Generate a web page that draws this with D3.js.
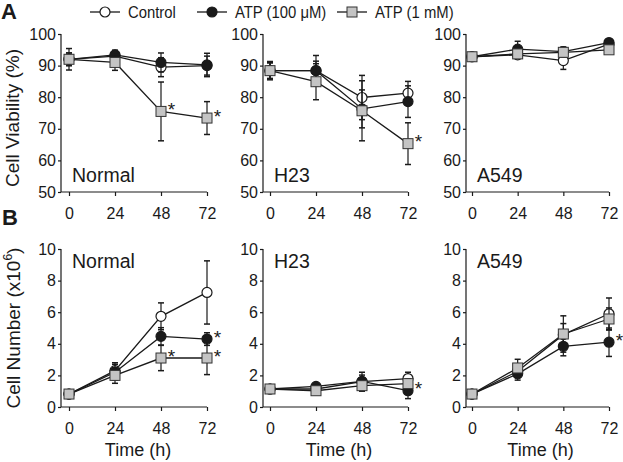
<!DOCTYPE html>
<html>
<head>
<meta charset="utf-8">
<script src="https://cdn.jsdelivr.net/npm/d3@7"></script>
<style>
  body { margin: 0; background: #fff; }
  text { font-family: "Liberation Sans", Arial, sans-serif; fill: #1a1a1a; }
</style>
</head>
<body>
<div id="chart"></div>
<script>
// time points (h)
const times = [0, 24, 48, 72];
const seriesNames = ["Control", "ATP (100 \u03bcM)", "ATP (1 mM)"];
const cellLines = ["Normal", "H23", "A549"];

// A: cell viability (%)
const viaControl = [[92, 93, 89.5, 90], [88.4, 88.4, 79.9, 81.3], [92.8, 93.4, 91.6, 96.8]];
const viaControlErr = [[2, 1.5, 3, 3], [2.5, 3, 7, 3.7], [0.8, 1, 2.8, 0.8]];
const viaAtpLow = [[92, 93.4, 91, 90.2], [88.4, 88.4, 76.3, 78.6], [92.8, 95.2, 94.4, 97.3]];
const viaAtpLowErr = [[2, 1.5, 3, 3.7], [2.5, 4.8, 6, 5], [0.8, 2.5, 1.5, 1]];
const viaAtpHigh = [[92, 91, 75.5, 73.4], [88.4, 84.9, 75.7, 65.3], [92.8, 93.7, 94.2, 95]];
const viaAtpHighErr = [[3.4, 2.5, 9.3, 5.2], [2.9, 5.7, 9.5, 6.6], [0.8, 1, 1.5, 0.8]];
// significance marks: [series index, time]
const viaStars = [[[2, 48], [2, 72]], [[2, 72]], []];

// B: cell number (x10^6)
const numControl = [[0.82, 2.3, 5.74, 7.25], [1.14, 1.14, 1.6, 1.8], [0.82, 2.26, 4.58, 5.9]];
const numControlErr = [[0.1, 0.5, 0.85, 2.0], [0.2, 0.2, 0.6, 0.4], [0.1, 0.4, 0.7, 1.0]];
const numAtpLow = [[0.82, 2.2, 4.47, 4.3], [1.14, 1.3, 1.62, 1.03], [0.82, 2.1, 3.84, 4.1]];
const numAtpLowErr = [[0.1, 0.5, 0.55, 0.4], [0.2, 0.2, 0.4, 0.5], [0.1, 0.4, 0.6, 0.9]];
const numAtpHigh = [[0.82, 2.0, 3.1, 3.1], [1.14, 1.03, 1.35, 1.48], [0.82, 2.47, 4.62, 5.57]];
const numAtpHighErr = [[0.1, 0.5, 0.8, 1.05], [0.2, 0.2, 0.3, 0.3], [0.1, 0.55, 1.15, 0.7]];
const numStars = [[[2, 48], [1, 72], [2, 72]], [[1, 72]], [[1, 72]]];

const viaTicks = [50, 60, 70, 80, 90, 100];
const numTicks = [0, 2, 4, 6, 8, 10];

const W = 623, H = 462;
const svg = d3.select("#chart").append("svg").attr("width", W).attr("height", H);

const axisX = [61, 263, 466];       // y axis line position of each column
const plotX = [[69, 207], [270, 408], [472, 609]];
const rows = [
  { top: 34, bottom: 192, domain: [50, 100], ticks: viaTicks,
    means: [viaControl, viaAtpLow, viaAtpHigh], errs: [viaControlErr, viaAtpLowErr, viaAtpHighErr], stars: viaStars },
  { top: 249, bottom: 407, domain: [0, 10], ticks: numTicks,
    means: [numControl, numAtpLow, numAtpHigh], errs: [numControlErr, numAtpLowErr, numAtpHighErr], stars: numStars }
];

const ink = "#1a1a1a";
const squareFill = "#c4c4c4";

function drawMarker(g, s, x, y) {
  if (s === 2) {
    g.append("rect").attr("x", x - 5).attr("y", y - 5).attr("width", 10).attr("height", 10)
      .attr("fill", squareFill).attr("stroke", "#333").attr("stroke-width", 1);
  } else {
    g.append("circle").attr("cx", x).attr("cy", y).attr("r", 5)
      .attr("fill", s === 0 ? "#fff" : ink).attr("stroke", ink).attr("stroke-width", 1.2);
  }
}

rows.forEach((row, ri) => {
  cellLines.forEach((name, ci) => {
    const x = d3.scaleLinear().domain([0, 72]).range(plotX[ci]);
    const y = d3.scaleLinear().domain(row.domain).range([row.bottom, row.top]);
    const g = svg.append("g");

    // axes
    const yAxis = d3.axisLeft(y).tickValues(row.ticks).tickSize(3).tickPadding(2);
    const ya = g.append("g").attr("transform", `translate(${axisX[ci]},0)`).call(yAxis);
    const xAxis = d3.axisBottom(x).tickValues(times).tickSize(4).tickPadding(12);
    const xa = g.append("g").attr("transform", `translate(0,${row.bottom})`).call(xAxis);
    [ya, xa].forEach(a => {
      a.select(".domain").remove();
      a.selectAll("line").attr("stroke", ink).attr("stroke-width", 1.2);
      a.selectAll("text").style("font-size", "16px").attr("fill", ink);
    });
    g.append("line").attr("x1", axisX[ci]).attr("x2", axisX[ci]).attr("y1", row.top).attr("y2", row.bottom)
      .attr("stroke", ink).attr("stroke-width", 1.2);
    g.append("line").attr("x1", axisX[ci]).attr("x2", x(72)).attr("y1", row.bottom).attr("y2", row.bottom)
      .attr("stroke", ink).attr("stroke-width", 1.2);

    // cell line label
    g.append("text").attr("x", axisX[ci] + 11).attr("y", ri === 0 ? row.bottom - 10 : row.top + 19)
      .style("font-size", "19.5px").text(name);

    // series: error bars, lines, markers
    [0, 1, 2].forEach(s => {
      const m = row.means[s][ci], e = row.errs[s][ci];
      const pts = times.map((t, i) => ({ t, v: m[i], e: e[i] }));
      pts.forEach(p => {
        const px = x(p.t);
        g.append("line").attr("x1", px).attr("x2", px).attr("y1", y(p.v - p.e)).attr("y2", y(p.v + p.e))
          .attr("stroke", ink).attr("stroke-width", 1.2);
        [p.v - p.e, p.v + p.e].forEach(v => {
          g.append("line").attr("x1", px - 3).attr("x2", px + 3).attr("y1", y(v)).attr("y2", y(v))
            .attr("stroke", ink).attr("stroke-width", 1.5);
        });
      });
      g.append("path").datum(pts)
        .attr("d", d3.line().x(p => x(p.t)).y(p => y(p.v)))
        .attr("fill", "none").attr("stroke", ink).attr("stroke-width", 1.3);
      pts.forEach(p => drawMarker(g, s, x(p.t), y(p.v)));
    });

    // asterisks
    row.stars[ci].forEach(([s, t]) => {
      const v = row.means[s][ci][times.indexOf(t)];
      g.append("text").attr("x", x(t) + 10.5).attr("y", y(v) + 4.5)
        .attr("text-anchor", "middle").style("font-size", "19px").text("*");
    });

    if (ri === 1) {
      g.append("text").attr("x", (plotX[ci][0] + plotX[ci][1]) / 2).attr("y", 456)
        .attr("text-anchor", "middle").style("font-size", "18px").text("Time (h)");
    }
  });
});

// y titles
svg.append("text").attr("transform", "translate(19,118) rotate(-90)").attr("text-anchor", "middle")
  .style("font-size", "19px").text("Cell Viability (%)");
const numTitle = svg.append("text").attr("transform", "translate(20,328) rotate(-90)").attr("text-anchor", "middle")
  .style("font-size", "19px");
numTitle.append("tspan").text("Cell Number (x10");
numTitle.append("tspan").attr("dy", -8).style("font-size", "12px").text("6");
numTitle.append("tspan").attr("dy", 8).text(")");

// panel letters
svg.append("text").attr("x", 1).attr("y", 19).style("font-size", "22px").style("font-weight", "bold").text("A");
svg.append("text").attr("x", 2).attr("y", 225).style("font-size", "22px").style("font-weight", "bold").text("B");

// legend
const legX = [90, 197, 337];
const legTextX = [128, 235, 375];
seriesNames.forEach((n, s) => {
  const lg = svg.append("g");
  lg.append("line").attr("x1", legX[s]).attr("x2", legX[s] + 30).attr("y1", 12).attr("y2", 12)
    .attr("stroke", ink).attr("stroke-width", 1.3);
  drawMarker(lg, s, legX[s] + 15, 12);
  lg.append("text").attr("transform", `translate(${legTextX[s]},17.5) scale(0.9,1)`)
    .style("font-size", "16.5px").text(n);
});
</script>
</body>
</html>
